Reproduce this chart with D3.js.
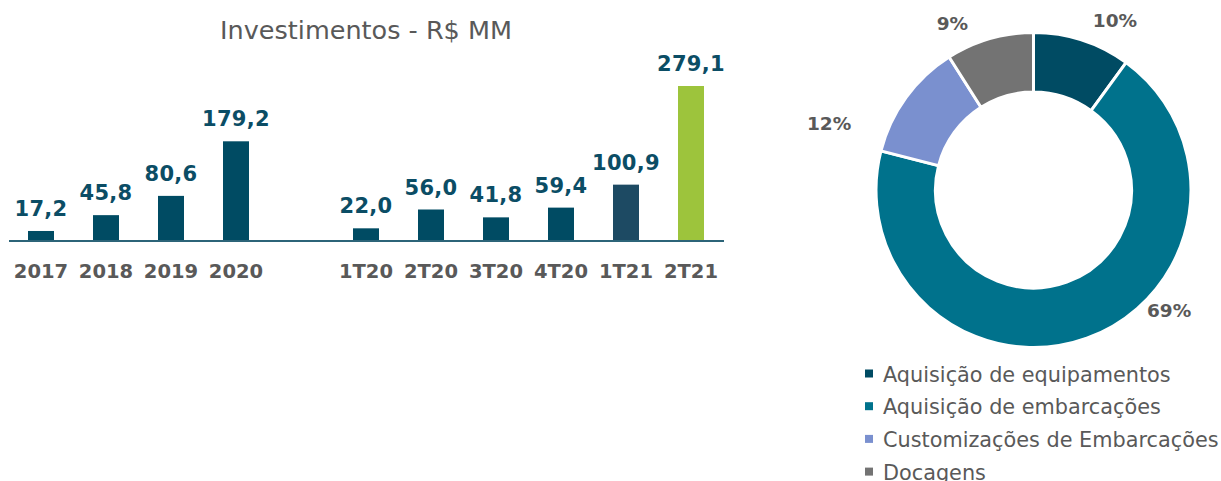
<!DOCTYPE html>
<html><head><meta charset="utf-8">
<script src="https://cdn.jsdelivr.net/npm/d3@7"></script>
<style>body{margin:0;background:#fff}svg{display:block}</style>
</head><body>
<svg id="c" width="1221" height="481"></svg>
<script>
const categories = ["2017","2018","2019","2020","","1T20","2T20","3T20","4T20","1T21","2T21"];
const values = [17.2,45.8,80.6,179.2,null,22.0,56.0,41.8,59.4,100.9,279.1];
const barColors = ["#004b63","#004b63","#004b63","#004b63",null,"#004b63","#004b63","#004b63","#004b63","#1d4a63","#9dc43c"];
const title = "Investimentos - R$ MM";

const pieLabels = ["Aquisição de equipamentos","Aquisição de embarcações","Customizações de Embarcações","Docagens"];
const pieValues = [10,69,12,9];
const pieColors = ["#004b63","#00728c","#7a90cf","#737373"];

const loc = d3.formatLocale({decimal:",",thousands:".",grouping:[3],currency:["R$ ",""]});
const fmt = loc.format(".1f");

const svg = d3.select("#c");
const font = "'DejaVu Sans', sans-serif";

// Bar chart
const x = d3.scaleBand().domain(categories).range([8.5,723.5]).paddingInner(0.6).paddingOuter(0.3);
const y = d3.scaleLinear().domain([0,279.1]).range([240.5,86]);

svg.append("text").attr("x",366).attr("y",39).attr("text-anchor","middle")
  .attr("font-family",font).attr("font-size",25.5).attr("fill","#595959").text(title);

const bars = categories.map((c,i)=>({c,v:values[i],col:barColors[i]})).filter(d=>d.v!=null);

svg.append("g").selectAll("rect").data(bars).join("rect")
  .attr("x",d=>x(d.c)).attr("width",x.bandwidth())
  .attr("y",d=>y(d.v)).attr("height",d=>y(0)-y(d.v)).attr("fill",d=>d.col);

svg.append("g").selectAll("text").data(bars).join("text")
  .attr("x",d=>x(d.c)+x.bandwidth()/2).attr("y",d=>y(d.v)-15)
  .attr("text-anchor","middle").attr("font-family",font).attr("font-weight","bold")
  .attr("font-size",21).attr("letter-spacing",0.3).attr("fill","#0b4d65").text(d=>fmt(d.v));

const ax = svg.append("g").attr("transform",`translate(0,${y(0)})`)
  .call(d3.axisBottom(x).tickSize(0).tickSizeOuter(0).tickPadding(0));
ax.select(".domain").attr("stroke","#2c6478").attr("stroke-width",2);
ax.selectAll(".tick text").attr("dy",null).attr("y",37.5)
  .attr("font-family",font).attr("font-weight","bold").attr("font-size",19.5)
  .attr("fill","#595959");

// Donut
const cx = 1033.5, cy = 190;
const pie = d3.pie().sort(null).value(d=>d)(pieValues);
const arc = d3.arc().innerRadius(98).outerRadius(157.5);
const dg = svg.append("g").attr("transform",`translate(${cx},${cy})`);
dg.selectAll("path").data(pie).join("path").attr("d",arc)
  .attr("fill",(d,i)=>pieColors[i]).attr("stroke","#fff").attr("stroke-width",3);

// label placement (angle in degrees, radius) chosen to mimic original layout
const labelPolar = [[25.6,188.5],[131.5,181],[-72,215],[-26,185]];
dg.selectAll("text").data(pie).join("text")
  .attr("transform",(d,i)=>{const p=d3.pointRadial(labelPolar[i][0]*Math.PI/180,labelPolar[i][1]);return `translate(${p[0]},${p[1]})`;})
  .attr("text-anchor","middle").attr("dy","0.36em")
  .attr("font-family",font).attr("font-weight","bold").attr("font-size",18.5)
  .attr("fill","#595959").text((d,i)=>pieValues[i]+"%");

// Legend
const lg = svg.append("g").attr("transform","translate(865,0)");
const li = lg.selectAll("g").data(pieLabels).join("g")
  .attr("transform",(d,i)=>`translate(0,${381.5+i*32.7})`);
li.append("rect").attr("x",0).attr("y",-12).attr("width",8).attr("height",8)
  .attr("fill",(d,i)=>pieColors[i]);
li.append("text").attr("x",18).attr("y",0).attr("font-family",font).attr("font-size",20.8)
  .attr("fill","#595959").text(d=>d);
</script>
</body></html>
